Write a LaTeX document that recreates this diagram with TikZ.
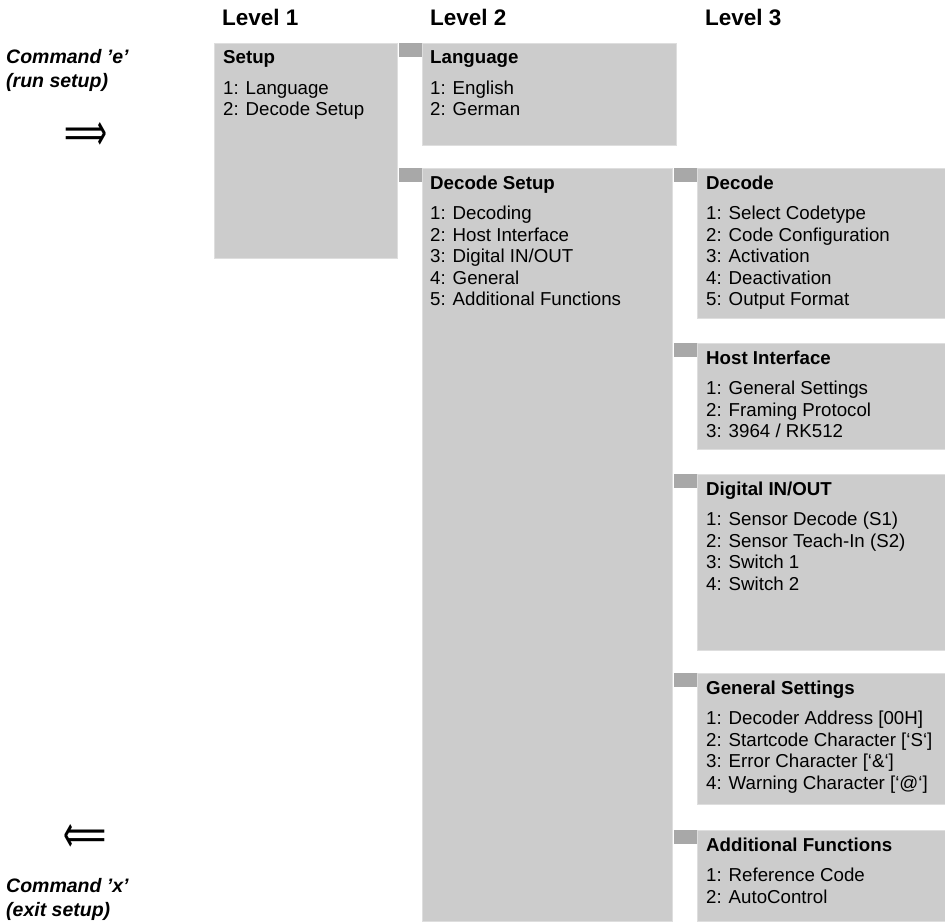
\documentclass[tikz,border=0pt]{standalone}
\usepackage{fontspec}
\setmainfont{Liberation Sans}
\newfontfamily\arrowfont{DejaVu Sans}
\usepackage{tikz}
\usetikzlibrary{positioning}
\definecolor{boxgrey}{RGB}{204,204,204}
\definecolor{tabgrey}{RGB}{168,168,168}
\definecolor{edgegrey}{RGB}{222,222,222}

\begin{document}
\begin{tikzpicture}[x=1pt, y=1pt,
  every node/.style={font=\fontsize{18.7}{21.5}\selectfont},
  menu/.style={fill=boxgrey, draw=edgegrey, line width=0.8pt, anchor=north west, inner sep=0pt},
  txt/.style={align=left, inner sep=0pt},
  colhead/.style={anchor=base west, inner sep=0pt, font=\fontsize{22.5}{27}\selectfont\bfseries},
  cmdtext/.style={anchor=north west, align=left, inner sep=0pt, font=\fontsize{19.5}{24}\selectfont\bfseries\itshape},
  bigarrow/.style={inner sep=0pt, font=\arrowfont},
  tabbar/.style={fill=tabgrey}
]
  \useasboundingbox (0,0) rectangle (945,-921);

  % column headings
  \node[colhead] (lv1) at (222,-25) {Level 1};
  \node[colhead] (lv2) at (430,-25) {Level 2};
  \node[colhead] (lv3) at (705,-25) {Level 3};

  % commands on the left
  \node[cmdtext] (cmde) at (6,-49) {Command 'e'\\(run setup)};
  \node[bigarrow] (enter) at (86,-136) {\resizebox{43pt}{28pt}{⟹}};
  \node[bigarrow] (leave) at (85,-838) {\resizebox{43pt}{28pt}{⟸}};
  \node[cmdtext] (cmdx) at (6,-878) {Command 'x'\\(exit setup)};

  % level 1 and 2
  \node[menu, minimum width=183pt, minimum height=215pt] (setup)   at (214,-43) {};
  \node[menu, minimum width=254pt, minimum height=102pt] (lang)    at (422,-43) {};
  \node[menu, minimum width=250pt, minimum height=753pt] (dsetup)  at (422,-168) {};

  % level 3
  \node[menu, minimum width=248pt, minimum height=150pt] (decode)  at (697,-168) {};
  \node[menu, minimum width=248pt, minimum height=106pt] (host)    at (697,-343) {};
  \node[menu, minimum width=248pt, minimum height=176pt] (digital) at (697,-474) {};
  \node[menu, minimum width=248pt, minimum height=131pt] (general) at (697,-673) {};
  \node[menu, minimum width=248pt, minimum height=91pt]  (addfun)  at (697,-830) {};

  % tabs from parent to child
  \foreach \c in {lang,dsetup}
    \fill[tabbar] ([xshift=1pt]setup.east |- \c.north) rectangle ([yshift=-14pt]\c.north west);
  \foreach \c in {decode,host,digital,general,addfun}
    \fill[tabbar] ([xshift=1pt]dsetup.east |- \c.north) rectangle ([yshift=-14pt]\c.north west);

  % menu texts
  \node[txt, below right=7.6pt and 9pt of setup.north west] (setupT)
    {\textbf{Setup}\\[9pt]1: Language\\2: Decode Setup};
  \node[txt, below right=7.6pt and 8pt of lang.north west] (langT)
    {\textbf{Language}\\[9pt]1: English\\2: German};
  \node[txt, below right=7.6pt and 8pt of dsetup.north west] (dsetupT)
    {\textbf{Decode Setup}\\[9pt]1: Decoding\\2: Host Interface\\3: Digital IN/OUT\\4: General\\5: Additional Functions};
  \node[txt, below right=7.6pt and 9pt of decode.north west] (decodeT)
    {\textbf{Decode}\\[9pt]1: Select Codetype\\2: Code Configuration\\3: Activation\\4: Deactivation\\5: Output Format};
  \node[txt, below right=7.6pt and 9pt of host.north west] (hostT)
    {\textbf{Host Interface}\\[9pt]1: General Settings\\2: Framing Protocol\\3: 3964 / RK512};
  \node[txt, below right=7.6pt and 9pt of digital.north west] (digitalT)
    {\textbf{Digital IN/OUT}\\[9pt]1: Sensor Decode (S1)\\2: Sensor Teach-In (S2)\\3: Switch 1\\4: Switch 2};
  \node[txt, below right=7.6pt and 9pt of general.north west] (generalT)
    {\textbf{General Settings}\\[9pt]1: Decoder Address [00H]\\2: Startcode Character [‘S‘]\\3: Error Character [‘\&‘]\\4: Warning Character [‘@‘]};
  \node[txt, below right=7.6pt and 9pt of addfun.north west] (addfunT)
    {\textbf{Additional Functions}\\[9pt]1: Reference Code\\2: AutoControl};
\end{tikzpicture}
\end{document}
